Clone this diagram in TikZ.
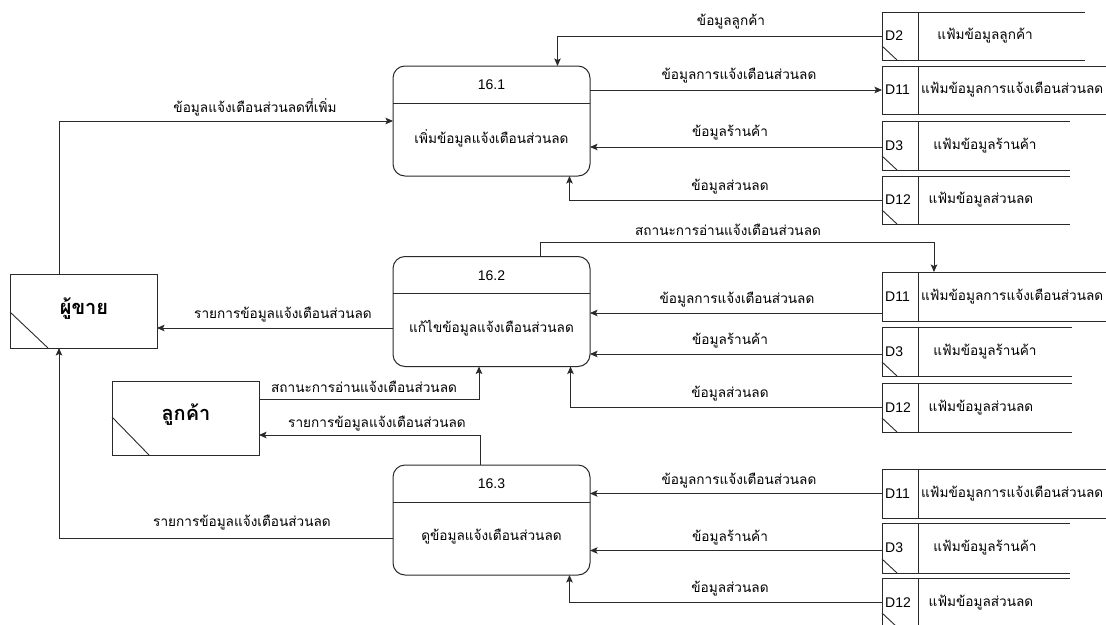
\documentclass[tikz,border=0pt]{standalone}
\usepackage{fontspec}
\setmainfont{Liberation Sans}
\newfontfamily\thai[Script=Thai]{Loma}
\usetikzlibrary{arrows.meta}
\definecolor{ln}{HTML}{2A2A2A}
\newcommand\dstore[8]{% #1 name #2 top #3 bottom #4 right end #5 id #6 text #7 text x #8 anchor
  \node[inner sep=0, outer sep=0, minimum width=36pt, minimum height={(#3-#2)*1pt}] (#1) at (900,{(#2+#3)/2}) {};
  \draw[line] (#4,#2) -- (882,#2) -- (882,#3) -- (#4,#3);
  \draw[line] (918,#2) -- (918,#3);
  \node[idtext] (#1id) at (885,{(#2+#3)/2}) {#5};
  \node[lbl, anchor=#8] (#1tx) at (#7,{(#2+#3)/2}) {#6};
}
\newcommand\dcut[2]{\draw[line] (882,#2-14) -- (897,#2);}
\begin{document}
\begin{tikzpicture}[x=1pt,y=-1pt,
  line/.style={draw=ln, line width=0.9pt},
  flow/.style={line, -{Stealth[length=7.5pt,width=6.5pt,inset=1.5pt]}},
  proc/.style={draw=ln, line width=1pt, rounded corners=12pt, minimum width=197pt, minimum height=110pt, inner sep=0, outer sep=0},
  ent/.style={draw=ln, line width=1pt, minimum width=147pt, minimum height=74pt, inner sep=0, outer sep=0},
  lbl/.style={font=\thai\fontsize{13.6}{15}\selectfont, inner sep=0},
  idtext/.style={font=\fontsize{14}{16}\selectfont, anchor=west, inner sep=0},
  num/.style={font=\fontsize{14}{16}\selectfont, inner sep=0},
  big/.style={font=\thai\bfseries\fontsize{20}{22}\selectfont, inner sep=0}
]
\useasboundingbox (0,0) rectangle (1106,624);

% processes
\foreach \n/\y/\t/\b in {p1/121/16.1/เพิ่มข้อมูลแจ้งเตือนส่วนลด, p2/311.5/16.2/แก้ไขข้อมูลแจ้งเตือนส่วนลด, p3/520/16.3/ดูข้อมูลแจ้งเตือนส่วนลด}{
  \node[proc] (\n) at (491.5,\y) {};
  \draw[line] ([yshift=-37pt]\n.north west) -- ([yshift=-37pt]\n.north east);
  \node[num] (\n num) at ([yshift=-19pt]\n.north) {\t};
  \node[lbl] (\n txt) at ([yshift=-72pt]\n.north) {\b};
}

% external entities
\node[ent] (seller) at (83.5,311) {};
\node[big] (sellertx) at (84,309) {ผู้ขาย};
\draw[line] (10,312) -- (48,348);
\node[ent] (cust) at (185.5,418) {};
\node[big] (custtx) at (186,415) {ลูกค้า};
\draw[line] (112,417) -- (149,455);

% data stores row 1
\dstore{s2}{12}{60}{1085}{D2}{แฟ้มข้อมูลลูกค้า}{985}{center}\dcut{s2}{60}
\dstore{s11a}{66}{114}{1106}{D11}{แฟ้มข้อมูลการแจ้งเตือนส่วนลด}{921}{west}
\dstore{s3a}{121}{170}{1070}{D3}{แฟ้มข้อมูลร้านค้า}{985}{center}\dcut{s3a}{170}
\dstore{s12a}{176}{224}{1070}{D12}{แฟ้มข้อมูลส่วนลด}{981}{center}\dcut{s12a}{224}
% row 2
\dstore{s11b}{272}{321}{1106}{D11}{แฟ้มข้อมูลการแจ้งเตือนส่วนลด}{921}{west}
\dstore{s3b}{327}{376}{1072}{D3}{แฟ้มข้อมูลร้านค้า}{985}{center}\dcut{s3b}{376}
\dstore{s12b}{383}{432}{1072}{D12}{แฟ้มข้อมูลส่วนลด}{981}{center}\dcut{s12b}{432}
% row 3
\dstore{s11c}{469}{518}{1106}{D11}{แฟ้มข้อมูลการแจ้งเตือนส่วนลด}{921}{west}
\dstore{s3c}{523}{573}{1070}{D3}{แฟ้มข้อมูลร้านค้า}{985}{center}\dcut{s3c}{573}
\dstore{s12c}{578}{627}{1070}{D12}{แฟ้มข้อมูลส่วนลด}{981}{center}\dcut{s12c}{627}

% flows row 1
\draw[flow] (s2.west) -| ([xshift=66pt]p1.north);
\draw[flow] (p1.east |- s11a.west) -- (s11a.west);
\coordinate (c3a) at ([yshift=-1.5pt]s3a.west);
\draw[flow] (c3a) -- (c3a -| p1.east);
\draw[flow] (s12a.west) -| ([xshift=78pt]p1.south);
\draw[flow] ([xshift=-24.5pt]seller.north) |- (p1.west);
\node[lbl] (l1) at (731,22) {ข้อมูลลูกค้า};
\node[lbl] (l2) at (739,76) {ข้อมูลการแจ้งเตือนส่วนลด};
\node[lbl] (l3) at (730,133) {ข้อมูลร้านค้า};
\node[lbl] (l4) at (730,187) {ข้อมูลส่วนลด};
\node[lbl] (l5) at (255,107) {ข้อมูลแจ้งเตือนส่วนลดที่เพิ่ม};

% flows row 2
\draw[flow] ([xshift=48.5pt]p2.north) -- ++(0,-14) -| ([xshift=34pt]s11b.north);
\coordinate (c11b) at ([yshift=-16.5pt]s11b.west);
\draw[flow] (c11b) -- (c11b -| p2.east);
\coordinate (c3b) at ([yshift=-2.5pt]s3b.west);
\draw[flow] (c3b) -- (c3b -| p2.east);
\draw[flow] (s12b.west) -| ([xshift=79pt]p2.south);
\coordinate (c2w) at ([yshift=-16.5pt]p2.west);
\draw[flow] (c2w) -- (c2w -| seller.east);
\draw[flow] ([yshift=19pt]cust.east) -| ([xshift=-12.5pt]p2.south);
\draw[flow] ([xshift=-11.5pt]p3.north) |- ([yshift=-17pt]cust.east);
\node[lbl] (l6) at (728,230) {สถานะการอ่านแจ้งเตือนส่วนลด};
\node[lbl] (l7) at (737,300) {ข้อมูลการแจ้งเตือนส่วนลด};
\node[lbl] (l8) at (730,341) {ข้อมูลร้านค้า};
\node[lbl] (l9) at (730,394) {ข้อมูลส่วนลด};
\node[lbl] (l10) at (283,315) {รายการข้อมูลแจ้งเตือนส่วนลด};
\node[lbl] (l11) at (364,387) {สถานะการอ่านแจ้งเตือนส่วนลด};
\node[lbl] (l12) at (377,424) {รายการข้อมูลแจ้งเตือนส่วนลด};

% flows row 3
\draw[flow] ([yshift=-18pt]p3.west) -| ([xshift=-24.5pt]seller.south);
\draw[flow] (s11c.west) -- (s11c.west -| p3.east);
\coordinate (c3c) at ([yshift=-2.5pt]s3c.west);
\draw[flow] (c3c) -- (c3c -| p3.east);
\draw[flow] (s12c.west) -| ([xshift=78pt]p3.south);
\node[lbl] (l13) at (739,481) {ข้อมูลการแจ้งเตือนส่วนลด};
\node[lbl] (l14) at (730,538) {ข้อมูลร้านค้า};
\node[lbl] (l15) at (730,589) {ข้อมูลส่วนลด};
\node[lbl] (l16) at (242,523) {รายการข้อมูลแจ้งเตือนส่วนลด};
\end{tikzpicture}
\end{document}
